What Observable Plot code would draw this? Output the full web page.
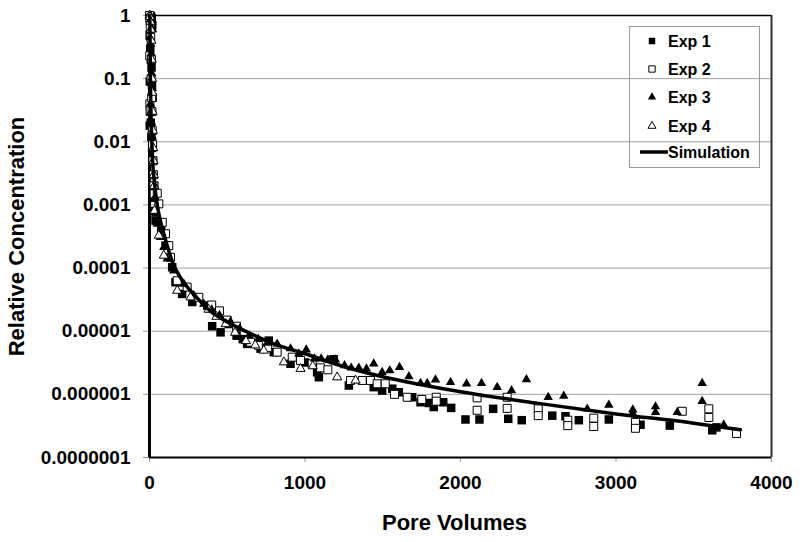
<!DOCTYPE html>
<html><head><meta charset="utf-8">
<script src="https://cdn.jsdelivr.net/npm/d3@7"></script>
<script src="https://cdn.jsdelivr.net/npm/@observablehq/plot@0.6"></script>
<style>
body{margin:0;background:#fff;font-family:"Liberation Sans",Arial,sans-serif;}
#wrap{position:relative;width:800px;height:542px;}
#legend{position:absolute;left:629px;top:26px;}
</style></head><body><div id="wrap"></div>
<script>
// ---- data ----
const exp1PV=[0.5,3,6,10,14,18,1,5,9,13,2,16,20,4,1.5,8,12,17,22,26,30,34,28,39,75,103,146,167,210,275,371,403,457,510,560,600,628,714,767,799,907,1000,1078,1089,1184,1282,1442,1496,1561,1603,1689,1743,1796,1828,1889,1940,2032,2122,2210,2307,2394,2590,2675,2761,2954,3158,3346,3619,3646];
const exp1C=[1,1,0.98,0.95,0.9,0.7,0.5,0.3,0.2,0.15,0.09,0.08,0.05,0.03,0.018,0.02,0.012,0.008,0.005,0.003,0.002,0.0013,0.0008,5.6e-4,3.9e-4,2.27e-4,1.03e-4,5.96e-5,3.9e-5,2.9e-5,2.55e-5,1.2e-5,9.6e-6,1.3e-5,8.5e-6,7.5e-6,6.3e-6,5.3e-6,7.1e-6,4.66e-6,3.05e-6,3.2e-6,2.24e-6,1.87e-6,3.6e-6,1.38e-6,1.3e-6,1.15e-6,1.23e-6,1.08e-6,9e-7,7.5e-7,7.3e-7,6.3e-7,7.5e-7,6.1e-7,4.0e-7,4.0e-7,5.9e-7,4.1e-7,3.9e-7,4.6e-7,4.5e-7,3.9e-7,4.0e-7,3.3e-7,3.2e-7,2.7e-7,3.0e-7];

const exp2PV=[0.5,2,1.5,5,2.5,8,4,12,10,14,16,18,20,22,25,28,30,50,60,82,103,124,135,178,242,317,400,450,500,560,650,700,760,821,918,971,1046,1100,1147,1293,1368,1421,1464,1516,1576,1657,1751,1844,1844,2107,2107,2300,2300,2500,2500,2690,2690,2857,2857,3125,3125,3426,3597,3597,3775];
const exp2C=[1,0.9,0.23,0.7,0.04,0.45,0.031,0.2,0.1,0.05,0.03,0.015,0.009,0.005,0.003,0.002,0.0015,1.53e-3,1.04e-3,5.3e-4,3.5e-4,2.27e-4,1.48e-4,6.3e-5,5.0e-5,3.45e-5,2.6e-5,2.1e-5,1.5e-5,1.2e-5,6.7e-6,6e-6,5.5e-6,4.66e-6,3.88e-6,3.44e-6,3.05e-6,2.63e-6,2.45e-6,1.66e-6,1.66e-6,1.66e-6,1.47e-6,1.47e-6,1.0e-6,9e-7,8.3e-7,9e-7,7.8e-7,8.8e-7,5.6e-7,9e-7,6e-7,5.9e-7,4.6e-7,3.9e-7,3.2e-7,4.2e-7,3.1e-7,3.6e-7,2.9e-7,5.4e-7,5.9e-7,4.3e-7,2.4e-7];

const exp3PV=[1,4,8,12,16,20,3,7,11,15,19,6,10,14,18,22,25,28,31,34,39,50,71,92,114,156,221,285,349,400,450,520,580,640,700,760,821,907,960,1008,1061,1104,1147,1196,1254,1297,1346,1395,1442,1496,1545,1608,1668,1743,1786,1839,1936,2039,2135,2236,2328,2424,2564,2664,2815,2954,3108,3108,3254,3254,3394,3554,3554,3693];
const exp3C=[1,1,0.97,0.9,0.8,0.6,0.45,0.35,0.25,0.12,0.07,0.04,0.03,0.02,0.012,0.008,0.005,0.003,0.002,0.0013,7.2e-4,5.0e-4,3.07e-4,2.13e-4,1.4e-4,9.1e-5,5.6e-5,3.7e-5,2.7e-5,2.2e-5,1.8e-5,1.4e-5,1.1e-5,8.5e-6,7.5e-6,6.5e-6,6.3e-6,5.3e-6,4.4e-6,5.1e-6,3.66e-6,3.66e-6,3.53e-6,3.53e-6,2.86e-6,2.63e-6,2.63e-6,2.54e-6,3.05e-6,2.24e-6,2.39e-6,2.69e-6,1.92e-6,1.5e-6,1.5e-6,1.7e-6,1.56e-6,1.47e-6,1.5e-6,1.3e-6,1.15e-6,1.72e-6,9e-7,9.4e-7,5.9e-7,6.8e-7,5.7e-7,5.0e-7,6.4e-7,5.2e-7,5.2e-7,1.5e-6,7.8e-7,3.3e-7];

const exp4PV=[0.5,3,6,9,12,14,16,18,20,22,24,26,28,30,32,60,92,178,264,380,430,490,550,620,680,735,864,971,1050,1207,1325];
const exp4C=[1,0.95,0.8,0.6,0.4,0.2,0.1,0.06,0.03,0.015,0.008,0.005,0.003,0.002,8.1e-4,3.27e-4,1.58e-4,4.4e-5,3.45e-5,2.2e-5,1.7e-5,1.3e-5,9.5e-6,7e-6,6e-6,4.95e-6,3.23e-6,2.54e-6,2.8e-6,1.87e-6,1.66e-6];

const simPV=[0,1,2,3,4,5,7,10,15,20,30,50,75,100,150,200,300,400,500,600,800,1000,1200,1500,2000,2500,3000,3500,3800];
const simC=[1,1,0.95,0.6,0.3,0.15,0.06,0.025,0.01,0.005,0.0025,0.001,0.0005,0.0003,0.00012,0.00007,0.000035,0.00002,0.000014,0.0000105,0.0000063,0.0000044,0.000003,0.0000019,0.0000011,0.00000072,0.00000049,0.00000035,0.000000275];

const xTicks=[0,1000,2000,3000,4000];
const yTicks=[1,0.1,0.01,0.001,0.0001,0.00001,0.000001,0.0000001];
const yTickLabels=["1","0.1","0.01","0.001","0.0001","0.00001","0.000001","0.0000001"];
const seriesNames=["Exp 1","Exp 2","Exp 3","Exp 4","Simulation"];
const xTitle="Pore Volumes";
const yTitle="Relative Concentration";

// ---- build ----
const rows=(pv,c)=>pv.map((x,i)=>({pv:x,c:c[i]}));
const e1=rows(exp1PV,exp1C), e2=rows(exp2PV,exp2C), e3=rows(exp3PV,exp3C), e4=rows(exp4PV,exp4C), sim=rows(simPV,simC);
const FONT='"Liberation Sans", Arial, sans-serif';
const yLabel=d=>{const k=yTicks.findIndex(t=>Math.abs(Math.log10(t)-Math.log10(d))<1e-6);return k<0?"":yTickLabels[k];};

const chart=Plot.plot({
  width:800,height:542,marginLeft:149,marginRight:29,marginTop:15,marginBottom:85,
  style:{fontFamily:FONT,fontWeight:"bold",color:"#000",background:"#fff",overflow:"visible"},
  x:{domain:[0,4000]},
  y:{type:"log",domain:[1e-7,1]},
  marks:[
    Plot.ruleY(yTicks,{stroke:"#a0a0a0",strokeWidth:1}),
    Plot.axisY({ticks:yTicks,tickFormat:yLabel,tickSize:6,tickPadding:13,fontSize:19,fontWeight:"bold",stroke:"#999",fill:"#000",label:null}),
    Plot.axisX({ticks:xTicks,tickFormat:d=>String(d),tickSize:5,tickPadding:13,fontSize:19,fontWeight:"bold",stroke:"#999",fill:"#000",label:null}),
    Plot.ruleX([4000],{stroke:"#333",strokeWidth:2}),
    Plot.ruleY([1],{stroke:"#000",strokeWidth:1.5}),
    Plot.ruleY([1e-7],{stroke:"#000",strokeWidth:2}),
    Plot.ruleX([0],{stroke:"#000",strokeWidth:3}),
    Plot.dot(e1,{x:"pv",y:"c",symbol:"square",r:4.8,fill:"#000",stroke:"none"}),
    Plot.dot(e2,{x:"pv",y:"c",symbol:"square",r:4.5,fill:"#fff",stroke:"#000",strokeWidth:1}),
    Plot.dot(e3,{x:"pv",y:"c",symbol:"triangle",r:3.5,fill:"#000",stroke:"none"}),
    Plot.dot(e4,{x:"pv",y:"c",symbol:"triangle",r:3.4,fill:"#fff",stroke:"#000",strokeWidth:1}),
    Plot.line(sim,{x:"pv",y:"c",stroke:"#000",strokeWidth:3.5,curve:"monotone-x"}),
    Plot.text([yTitle],{text:d=>d,frameAnchor:"left",dx:-133,rotate:-90,textAnchor:"middle",lineAnchor:"middle",fontSize:22,fontWeight:"bold",fill:"#000"}),
    Plot.text([xTitle],{text:d=>d,frameAnchor:"bottom",dx:-6,dy:65,textAnchor:"middle",lineAnchor:"middle",fontSize:22,fontWeight:"bold",fill:"#000"})
  ]
});
const wrap=document.getElementById("wrap");
wrap.appendChild(chart);

// ---- legend ----
const lg=d3.select(wrap).append("svg").attr("id","legend").attr("width",131).attr("height",142)
  .style("font-family",FONT).style("font-weight","bold");
lg.append("rect").attr("x",0.5).attr("y",0.5).attr("width",130).attr("height",141).attr("fill","none").attr("stroke","#999");
const rowY=[15,43,71,100,126];
const sym=[{t:d3.symbolSquare,s:42,f:"#000",st:"none"},{t:d3.symbolSquare,s:40,f:"#fff",st:"#000"},{t:d3.symbolTriangle,s:30,f:"#000",st:"none"},{t:d3.symbolTriangle,s:28,f:"#fff",st:"#000"}];
seriesNames.forEach((name,i)=>{
  if(i<4){
    lg.append("path").attr("d",d3.symbol(sym[i].t,sym[i].s)()).attr("transform",`translate(23,${rowY[i]})`)
      .attr("fill",sym[i].f).attr("stroke",sym[i].st).attr("stroke-width",1);
    lg.append("text").attr("x",39).attr("y",rowY[i]).attr("dy","0.35em").attr("font-size",16).text(name);
  } else {
    lg.append("line").attr("x1",11).attr("x2",39).attr("y1",rowY[i]).attr("y2",rowY[i]).attr("stroke","#000").attr("stroke-width",3.5);
    lg.append("text").attr("x",39).attr("y",rowY[i]).attr("dy","0.35em").attr("font-size",16).text(name);
  }
});
</script></body></html>
